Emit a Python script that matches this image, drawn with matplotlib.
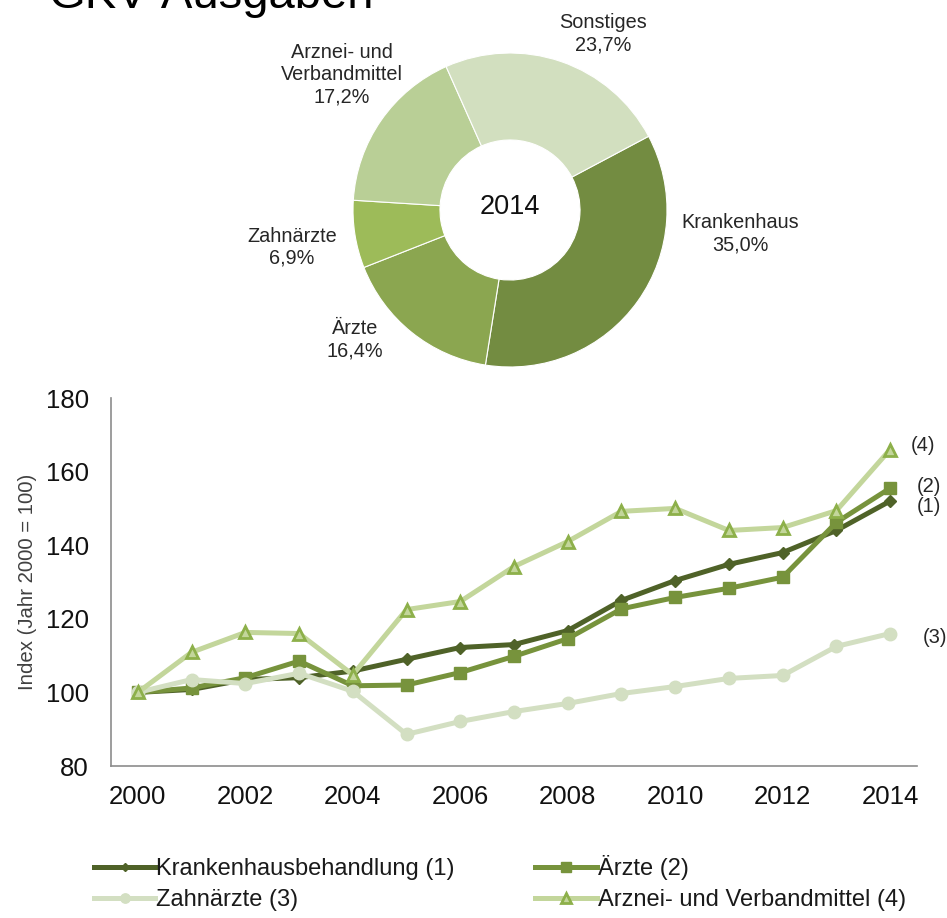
import matplotlib
matplotlib.use('Agg')
import matplotlib.pyplot as plt

plt.rcParams['font.family'] = ['Liberation Sans', 'DejaVu Sans']

# ---------------- data ----------------
title = 'GKV-Ausgaben'
pie_year = '2014'
pie_labels = ['Krankenhaus', 'Ärzte', 'Zahnärzte', 'Arznei- und\nVerbandmittel', 'Sonstiges']
pie_values = [35.0, 16.4, 6.9, 17.2, 23.7]

years = list(range(2000, 2015))
krankenhaus = [100, 100.8, 103.5, 104, 105.8, 109, 112.2, 113, 116.8, 125, 130.4, 134.8, 138, 144, 152]
aerzte = [100, 101.2, 104, 108.5, 101.8, 102, 105.4, 109.8, 114.6, 122.7, 125.8, 128.3, 131.3, 146.2, 155.5]
zahnaerzte = [100, 103.5, 102.4, 105.2, 100.3, 88.6, 92.1, 94.8, 97, 99.7, 101.6, 103.8, 104.6, 112.5, 116]
arznei = [100, 110.9, 116.3, 116, 104.8, 122.5, 124.7, 134.2, 141, 149.2, 150, 144, 144.8, 149.4, 166]
series_names = ['Krankenhausbehandlung (1)', 'Ärzte (2)', 'Zahnärzte (3)', 'Arznei- und Verbandmittel (4)']
end_tags = ['(1)', '(2)', '(3)', '(4)']
x_ticks = list(range(2000, 2015, 2))
y_ticks = [80, 100, 120, 140, 160, 180]
y_label = 'Index (Jahr 2000 = 100)'

# ---------------- style ----------------
W, H = 947, 918
fig = plt.figure(figsize=(W / 100, H / 100), dpi=100)


def fx(px):
    return px / W


def fy(py):
    return 1 - py / H


# title (partly cut off at top like the reference)
fig.text(fx(49), fy(8), title, fontsize=34, va='baseline', ha='left', color='black')

# ---------------- donut ----------------
cx, cy, r = 510, 210, 157
axp = fig.add_axes([fx(cx - r), fy(cy + r), 2 * r / W, 2 * r / H])
pie_colors = ['#738c41', '#8ba650', '#9dbb59', '#b9cf96', '#d2dfbf']
axp.pie(pie_values, colors=pie_colors, startangle=28, counterclock=False,
        wedgeprops=dict(width=0.554, edgecolor='white', linewidth=0.8))
axp.set_xlim(-1, 1)
axp.set_ylim(-1, 1)
axp.set_aspect('auto')
axp.axis('off')
axp.text(0, 0.02, pie_year, ha='center', va='center', fontsize=19.5, color='#111111')

label_pos = [(740, 234), (355, 340), (292, 247), (342, 75), (603, 34)]
for lab, val, (px, py) in zip(pie_labels, pie_values, label_pos):
    txt = lab + '\n' + f'{val:.1f}'.replace('.', ',') + '%'
    fig.text(fx(px), fy(py), txt, ha='center', va='center', fontsize=14.3,
             color='#262626', linespacing=1.2)

# ---------------- line chart ----------------
ax = fig.add_axes([fx(111), fy(766), (917 - 111) / W, (766 - 398) / H])
c1, c2, c3, c4 = '#4f6228', '#77933c', '#d3dfc2', '#c3d69b'
lw = 3.6
styles = [
    dict(color=c1, lw=lw, marker='D', markersize=6, markerfacecolor=c1, markeredgecolor=c1),
    dict(color=c2, lw=lw, marker='s', markersize=9, markerfacecolor=c2, markeredgecolor=c2),
    dict(color=c3, lw=lw, marker='o', markersize=9, markerfacecolor=c3, markeredgecolor=c3),
    dict(color=c4, lw=lw, marker='^', markersize=9, markerfacecolor=c4,
         markeredgecolor='#8db04a', markeredgewidth=2),
]
data = [krankenhaus, aerzte, zahnaerzte, arznei]
for vals, st, name in zip(data, styles, series_names):
    ax.plot(years, vals, label=name, solid_joinstyle='round', **st)

ax.set_xlim(1999.5, 2014.5)
ax.set_ylim(80, 180)
ax.set_xticks(x_ticks)
ax.set_yticks(y_ticks)
ax.tick_params(axis='both', length=0, labelsize=18.5, colors='#111111')
ax.tick_params(axis='y', pad=16)
ax.tick_params(axis='x', pad=14)
for s in ['top', 'right']:
    ax.spines[s].set_visible(False)
for s in ['left', 'bottom']:
    ax.spines[s].set_color('#8c8c8c')
    ax.spines[s].set_linewidth(1.2)
ax.set_ylabel(y_label, fontsize=14.7, color='#404040', labelpad=6)

# end tags
tag_offsets = {'(1)': (28, -4), '(2)': (28, 1), '(3)': (32, -3), '(4)': (24, 3)}
for vals, tag in zip(data, end_tags):
    dx, dy = tag_offsets[tag]
    ax.annotate(tag, xy=(years[-1], vals[-1]), xytext=(dx, dy), textcoords='offset points',
                ha='center', va='center', fontsize=14.5, color='#262626', annotation_clip=False)

# legend
handles, labels = ax.get_legend_handles_labels()
order = [0, 2, 1, 3]
leg = fig.legend([handles[i] for i in order], [labels[i] for i in order],
                 loc='center left', bbox_to_anchor=(fx(82), fy(883)), ncol=2,
                 frameon=False, fontsize=17, handlelength=2.6, handletextpad=0.05,
                 columnspacing=3.4, labelspacing=0.4, borderpad=0, numpoints=1,
                 markerscale=0.75)
for t in leg.get_texts():
    t.set_color('#1a1a1a')

fig.savefig('out.png', dpi=100)
